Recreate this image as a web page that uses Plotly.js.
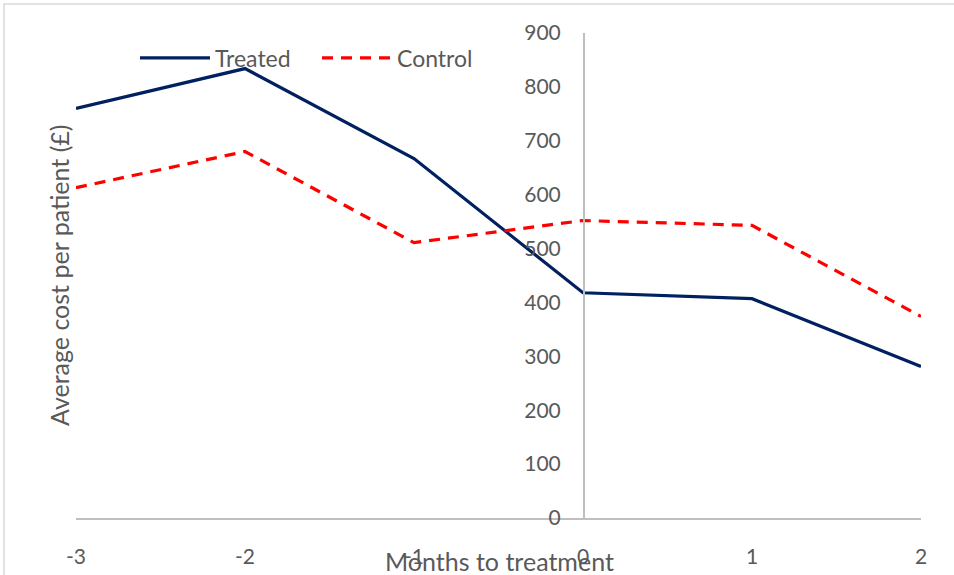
<!DOCTYPE html>
<html>
<head>
<meta charset="utf-8">
<script src="https://cdn.plot.ly/plotly-3.0.1.min.js"></script>
<style>html,body{margin:0;padding:0;background:#fff;}#chart{width:954px;height:575px;}</style>
</head>
<body>
<div id="chart"></div>
<script>
const months = [-3, -2, -1, 0, 1, 2];
const treated = [760, 834, 667, 418, 407, 281];
const control = [613, 680, 511, 552, 543, 374];
const yTicks = [0, 100, 200, 300, 400, 500, 600, 700, 800, 900];
const xTicks = [-3, -2, -1, 0, 1, 2];

const FONT = 'Lato, "Liberation Sans Narrow", "DejaVu Sans", sans-serif';
const GREY = '#595959';

const traces = [
  {x: months, y: treated, name: 'Treated', type: 'scatter', mode: 'lines',
   line: {color: '#002060', width: 3.2}},
  {x: months, y: control, name: 'Control', type: 'scatter', mode: 'lines',
   line: {color: '#FF0000', width: 3.2, dash: '11px,8px'}}
];

const L = 76, R = 33, T = 33, B = 57;
const W = 954, H = 575;
const pw = W - L - R, ph = H - T - B;
const px2paperX = p => (p - L) / pw;
const px2paperY = p => (H - B - p) / ph;

const layout = {
  width: W, height: H,
  margin: {l: L, r: R, t: T, b: B},
  paper_bgcolor: '#fff', plot_bgcolor: '#fff',
  font: {family: FONT, color: GREY, size: 20},
  showlegend: true,
  legend: {orientation: 'h', x: px2paperX(135), y: px2paperY(58), xanchor: 'left', yanchor: 'middle',
           font: {family: FONT, size: 23, color: GREY}, itemwidth: 70, entrywidth: 97, entrywidthmode: 'pixels',
           bgcolor: 'rgba(0,0,0,0)'},
  xaxis: {range: [-3, 2], tickvals: xTicks, ticktext: xTicks.map(String), showgrid: false, zeroline: false,
          showline: true, linecolor: '#bfbfbf', linewidth: 1.5, ticks: '', ticklabelstandoff: 19,
          tickfont: {family: FONT, size: 21, color: GREY}, fixedrange: true},
  yaxis: {range: [0, 900], tickvals: yTicks, showgrid: false, zeroline: false,
          showline: true, linecolor: '#bfbfbf', linewidth: 1.5, ticks: '',
          anchor: 'free', position: 0.6, side: 'left', ticklabelstandoff: 18,
          tickfont: {family: FONT, size: 21, color: GREY}, fixedrange: true},
  annotations: [
    {text: 'Average cost per patient (£)', xref: 'paper', yref: 'paper',
     x: px2paperX(59), y: px2paperY(275), textangle: -90, showarrow: false,
     font: {family: FONT, size: 25, color: GREY}, xanchor: 'center', yanchor: 'middle'},
    {text: 'Months to treatment', xref: 'paper', yref: 'paper',
     x: px2paperX(499), y: px2paperY(561), showarrow: false,
     font: {family: FONT, size: 25, color: GREY}, xanchor: 'center', yanchor: 'middle'}
  ],
  shapes: [
    {type: 'rect', xref: 'paper', yref: 'paper', x0: px2paperX(4), x1: px2paperX(970),
     y0: px2paperY(590), y1: px2paperY(4), line: {color: '#d9d9d9', width: 1.5}, fillcolor: 'rgba(0,0,0,0)', layer: 'below'}
  ]
};

Plotly.newPlot('chart', traces, layout, {displayModeBar: false, staticPlot: true});
</script>
</body>
</html>
